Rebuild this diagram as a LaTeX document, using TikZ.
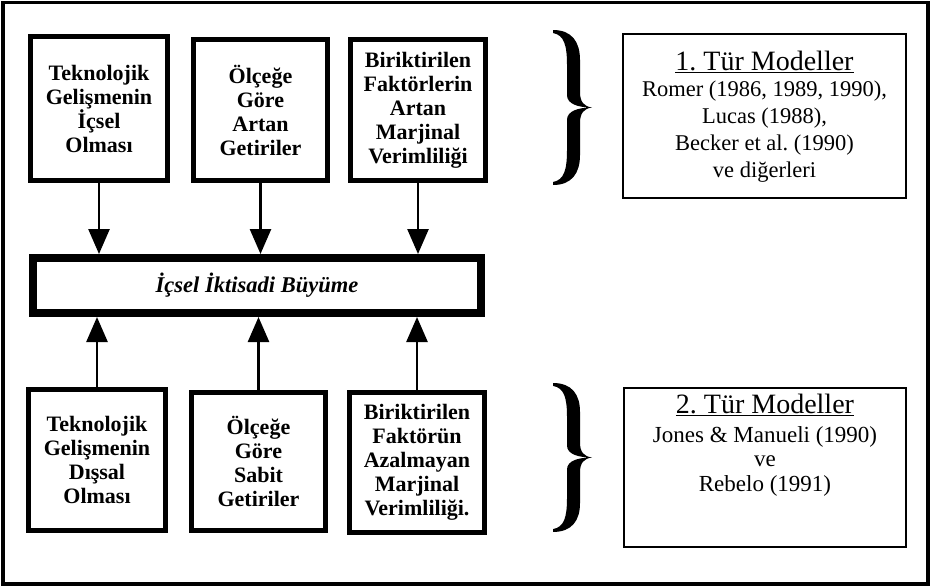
\documentclass[tikz,border=0pt]{standalone}
\usepackage{fontspec}
\setmainfont{Liberation Serif}
\usetikzlibrary{arrows.meta}
\frenchspacing
\begin{document}
\begin{tikzpicture}[x=1pt,y=-1pt,
  leftbox/.style={draw, line width=5pt, align=center, inner sep=0pt,
    font=\fontsize{22}{24}\selectfont\bfseries},
  midbox/.style={draw, line width=8pt, inner sep=0pt,
    font=\fontsize{22.5}{24}\selectfont\bfseries\itshape},
  refbox/.style={draw, line width=1.8pt, inner sep=0pt},
  reftext/.style={align=center, inner sep=0pt},
  conn/.style={line width=2.6pt, -{Triangle[length=25pt,width=21pt]}},
  rbrace/.pic={
    \fill (3,0) .. controls (22,0) and (30,12) .. (30,30) -- (30,62)
      .. controls (30,72) and (34,76.5) .. (42,77.5)
      .. controls (34,78.5) and (30,83) .. (30,93) -- (30,125)
      .. controls (30,143) and (22,155) .. (3,155)
      -- (3,152) .. controls (14,150) and (17,140) .. (17,120) -- (17,90)
      .. controls (17,81) and (28,77.5) .. (42,77.5)
      .. controls (28,77.5) and (17,74) .. (17,65) -- (17,35)
      .. controls (17,15) and (14,5) .. (3,3) -- cycle;
  }
]
\useasboundingbox (0,0) rectangle (931,587);
% outer frame
\draw[line width=3.5pt] (3,2.5) rectangle (928,584);

% top boxes
\node[leftbox, minimum width=137pt, minimum height=144pt] (t1) at (99,108.5)
  {Teknolojik\\Gelişmenin\\İçsel\\Olması};
\node[leftbox, minimum width=134pt, minimum height=141pt] (t2) at (260.5,110)
  {Ölçeğe\\Göre\\Artan\\Getiriler};
\node[leftbox, minimum width=135pt, minimum height=141pt] (t3) at (418,110)
  {Biriktirilen\\Faktörlerin\\Artan\\Marjinal\\Verimliliği};

% middle box
\node[midbox, minimum width=448pt, minimum height=55pt] (m) at (257,285.5)
  {İçsel İktisadi Büyüme};

% bottom boxes
\node[leftbox, minimum width=137pt, minimum height=141pt] (b1) at (97,460)
  {Teknolojik\\Gelişmenin\\Dışsal\\Olması};
\node[leftbox, minimum width=134pt, minimum height=138pt] (b2) at (258.5,461.5)
  {Ölçeğe\\Göre\\Sabit\\Getiriler};
\node[leftbox, minimum width=135pt, minimum height=140pt] (b3) at (417,462.5)
  {Biriktirilen\\Faktörün\\Azalmayan\\Marjinal\\Verimliliği.};

% connectors
\draw[conn] (t1.south) -- (t1.south |- m.north);
\draw[conn] (t2.south) -- (t2.south |- m.north);
\draw[conn] (t3.south) -- (t3.south |- m.north);
\draw[conn] (b1.north) -- (b1.north |- m.south);
\draw[conn] (b2.north) -- (b2.north |- m.south);
\draw[conn] (b3.north) -- (b3.north |- m.south);

% braces
\pic at (550,30) {rbrace};
\pic[yscale=0.961] at (550,383) {rbrace};

% right boxes
\node[refbox, minimum width=283pt, minimum height=164pt] (r1) at (764.5,116) {};
\node[reftext, font=\fontsize{22.5}{27}\selectfont] (r1t) at (764.5,117)
  {{\fontsize{28}{27}\selectfont\underline{1. Tür Modeller}}\\[-1pt]
   Romer (1986, 1989, 1990),\\ Lucas (1988),\\ Becker et al. (1990)\\ ve diğerleri};

\node[refbox, minimum width=282pt, minimum height=159pt] (r2) at (765,467.5) {};
\node[reftext, font=\fontsize{23}{24.5}\selectfont, anchor=north] (r2t) at (765,394)
  {{\fontsize{28}{27}\selectfont\underline{2. Tür Modeller}}\\[4pt]
   Jones \& Manueli (1990)\\ ve\\ Rebelo (1991)};
\end{tikzpicture}
\end{document}
